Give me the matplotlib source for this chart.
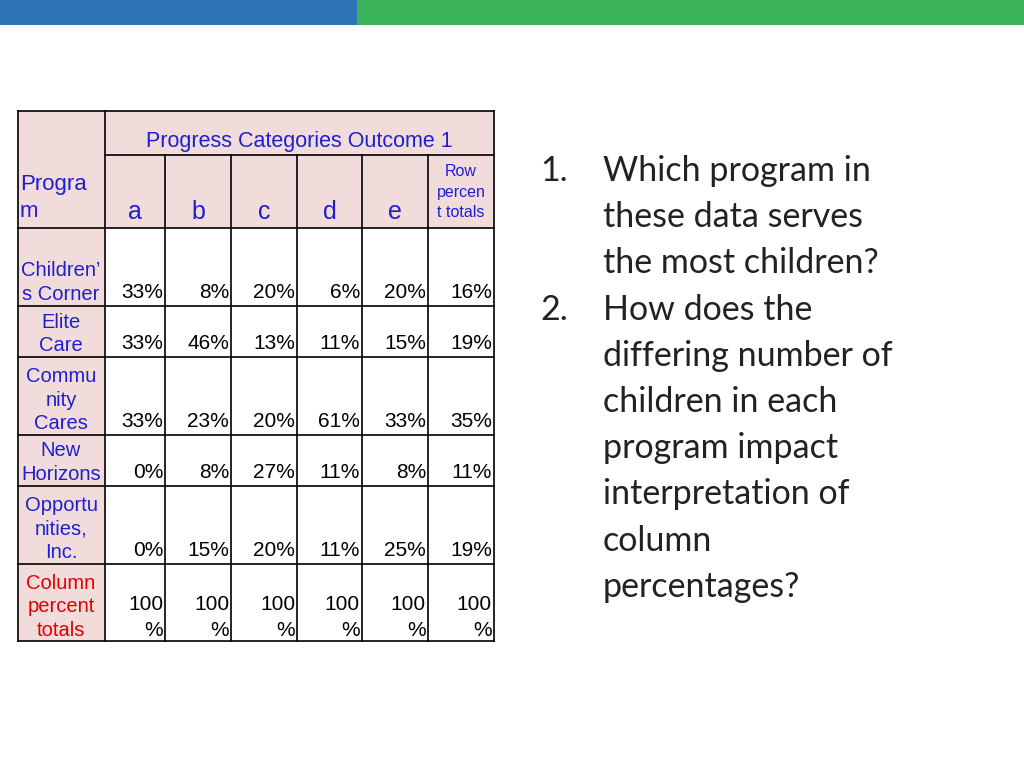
import matplotlib
matplotlib.use("Agg")
import matplotlib.pyplot as plt
from matplotlib.patches import Rectangle

categories = ["a", "b", "c", "d", "e", "Row\npercen\nt totals"]
programs = ["Children’\ns Corner", "Elite\nCare", "Commu\nnity\nCares", "New\nHorizons", "Opportu\nnities,\nInc."]
values = [
    ["33%", "8%", "20%", "6%", "20%", "16%"],
    ["33%", "46%", "13%", "11%", "15%", "19%"],
    ["33%", "23%", "20%", "61%", "33%", "35%"],
    ["0%", "8%", "27%", "11%", "8%", "11%"],
    ["0%", "15%", "20%", "11%", "25%", "19%"],
]
totals = ["100\n%"] * 6
questions = ["Which program in\nthese data serves\nthe most children?",
             "How does the\ndiffering number of\nchildren in each\nprogram impact\ninterpretation of\ncolumn\npercentages?"]

fig = plt.figure(figsize=(10.24, 7.68), dpi=100)
ax = fig.add_axes([0, 0, 1, 1])
ax.set_xlim(0, 1024); ax.set_ylim(768, 0); ax.axis("off")

ax.add_patch(Rectangle((0, 0), 357, 25, color="#2E75B6", lw=0))
ax.add_patch(Rectangle((357, 0), 667, 25, color="#3BB35B", lw=0))

xs = [18, 105, 165, 231, 297, 362, 428, 494]
ys = [228, 306, 357, 435, 486, 564, 641]
pink = "#F2DCDB"
blue = "#1F1FD0"
F = "Liberation Sans"

ax.add_patch(Rectangle((18, 111), 476, 117, color=pink, lw=0))
for i in range(len(ys) - 1):
    ax.add_patch(Rectangle((18, ys[i]), 87, ys[i+1]-ys[i], color=pink, lw=0))

lk = dict(color="black", lw=1.2)
ax.plot([18, 494], [111, 111], **lk)
ax.plot([105, 494], [155, 155], **lk)
for y in ys:
    ax.plot([18, 494], [y, y], **lk)
ax.plot([18, 18], [111, 641], **lk)
ax.plot([105, 105], [111, 641], **lk)
ax.plot([494, 494], [111, 641], **lk)
for x in xs[2:-1]:
    ax.plot([x, x], [155, 641], **lk)

ax.text(299, 141, "Progress Categories Outcome 1", fontsize=15.5, color=blue, ha="center", va="center", family=F)
ax.text(20, 198, "Progra\nm", fontsize=16, color=blue, ha="left", va="center", family=F, linespacing=1.35)
for j, c in enumerate(categories):
    cx = (xs[j+1] + xs[j+2]) / 2
    if j < 5:
        ax.text(cx, 212, c, fontsize=18, color=blue, ha="center", va="center", family=F)
    else:
        ax.text(cx, 192, c, fontsize=11.5, color=blue, ha="center", va="center", family=F, linespacing=1.45)

for i, p in enumerate(programs):
    ax.text(61, ys[i+1] - 2, p, fontsize=14.5, color=blue, ha="center", va="bottom", family=F, linespacing=1.3)
    for j, v in enumerate(values[i]):
        ax.text(xs[j+2] - 2, ys[i+1] - 4, v, fontsize=15, color="black", ha="right", va="bottom", family=F)
ax.text(61, 640, "Column\npercent\ntotals", fontsize=14.5, color="#E00000", ha="center", va="bottom", family=F, linespacing=1.3)
for j, v in enumerate(totals):
    ax.text(xs[j+2] - 2, 640, v, fontsize=15, color="black", ha="right", va="bottom", family=F, linespacing=1.5)

y0 = 171
lh = 46.2
for k, q in enumerate(questions):
    ax.text(540, y0, f"{k+1}.", fontsize=24.5, color="#222222", ha="left", va="center", family="Lato")
    for line in q.split("\n"):
        ax.text(603, y0, line, fontsize=24.5, color="#222222", ha="left", va="center", family="Lato")
        y0 += lh

fig.savefig("out.png", dpi=100)
